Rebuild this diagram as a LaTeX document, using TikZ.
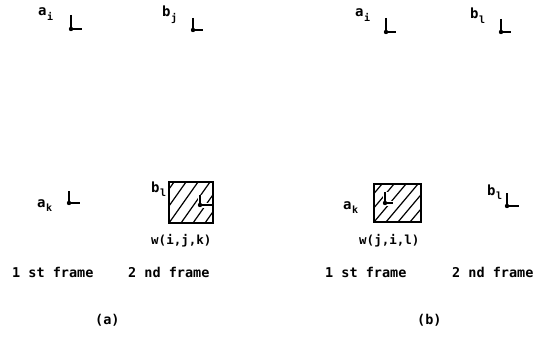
\documentclass[tikz,border=0pt]{standalone}
\usepackage{fontspec}
\setmonofont{DejaVu Sans Mono}
\newcommand\mylab[2]{{\fontsize{14}{14}\selectfont #1}\hspace{0.5pt}\raisebox{-4.5pt}{\fontsize{10}{10}\selectfont #2}}
\begin{document}
\begin{tikzpicture}[x=1pt,y=-1pt,
  txt/.style={inner sep=0pt,anchor=base west,font=\ttfamily\bfseries\fontsize{13.5}{14}\selectfont},
  lab/.style={inner sep=0pt,anchor=base west,font=\ttfamily\bfseries},
  wlab/.style={inner sep=0pt,anchor=base west,font=\ttfamily\bfseries\fontsize{12.5}{13}\selectfont},
  markline/.style={line width=1.7pt},
  halo/.style={line width=5pt,white},
  boxline/.style={line width=1.7pt},
  hatch/.style={line width=1.2pt}]
\useasboundingbox (0,0) rectangle (551,337);
% ---------- (a) ----------
\node[lab] (ai) at (38,16) {\mylab{a}{i}};
\node[lab] (bj) at (162,17) {\mylab{b}{j}};
\node[lab] (ak) at (37,207) {\mylab{a}{k}};
\node[lab] (bl) at (151,192) {\mylab{b}{l}};
% marks
\draw[markline] (71,15) -- (71,29) -- (82,29); \fill (71,29) circle (2.2);
\draw[markline] (193,18) -- (193,30) -- (203,30); \fill (193,30) circle (2.2);
\draw[markline] (69,191) -- (69,203) -- (80,203); \fill (69,203) circle (2.2);
% box a
\begin{scope}
\clip (169,182) rectangle (213,223);
\foreach \k in {-3,...,4} {\draw[hatch] (169+12*\k,223) -- (169+12*\k+29,182);}
\draw[halo] (200,195) -- (200,205) -- (212,205);
\end{scope}
\draw[markline] (200,195) -- (200,205) -- (212,205); \fill (200,205) circle (2.2);
\draw[boxline] (169,182) rectangle (213,223);
\node[wlab] (wa) at (151,244) {w(i,j,k)};
\node[txt] (f1a) at (12,277) {1 st frame};
\node[txt] (f2a) at (128,277) {2 nd frame};
\node[txt] (capa) at (95,324) {(a)};
% ---------- (b) ----------
\node[lab] (bai) at (355,17) {\mylab{a}{i}};
\node[lab] (bbl) at (470,19) {\mylab{b}{l}};
\node[lab] (bak) at (343,209) {\mylab{a}{k}};
\node[lab] (bbl2) at (487,195) {\mylab{b}{l}};
\draw[markline] (386,18) -- (386,32) -- (396,32); \fill (386,32) circle (2.2);
\draw[markline] (501,19) -- (501,32) -- (511,32); \fill (501,32) circle (2.2);
\draw[markline] (507,193) -- (507,206) -- (519,206); \fill (507,206) circle (2.2);
\begin{scope}
\clip (374,184) rectangle (421,222);
\foreach \k in {-3,...,4} {\draw[hatch] (374+12*\k,222) -- (374+12*\k+32,184);}
\draw[halo] (385,192) -- (385,203) -- (393,203);
\end{scope}
\draw[markline] (385,192) -- (385,203) -- (393,203); \fill (385,203) circle (2.2);
\draw[boxline] (374,184) rectangle (421,222);
\node[wlab] (wb) at (359,244) {w(j,i,l)};
\node[txt] (f1b) at (325,277) {1 st frame};
\node[txt] (f2b) at (452,277) {2 nd frame};
\node[txt] (capb) at (417,324) {(b)};
\end{tikzpicture}
\end{document}
